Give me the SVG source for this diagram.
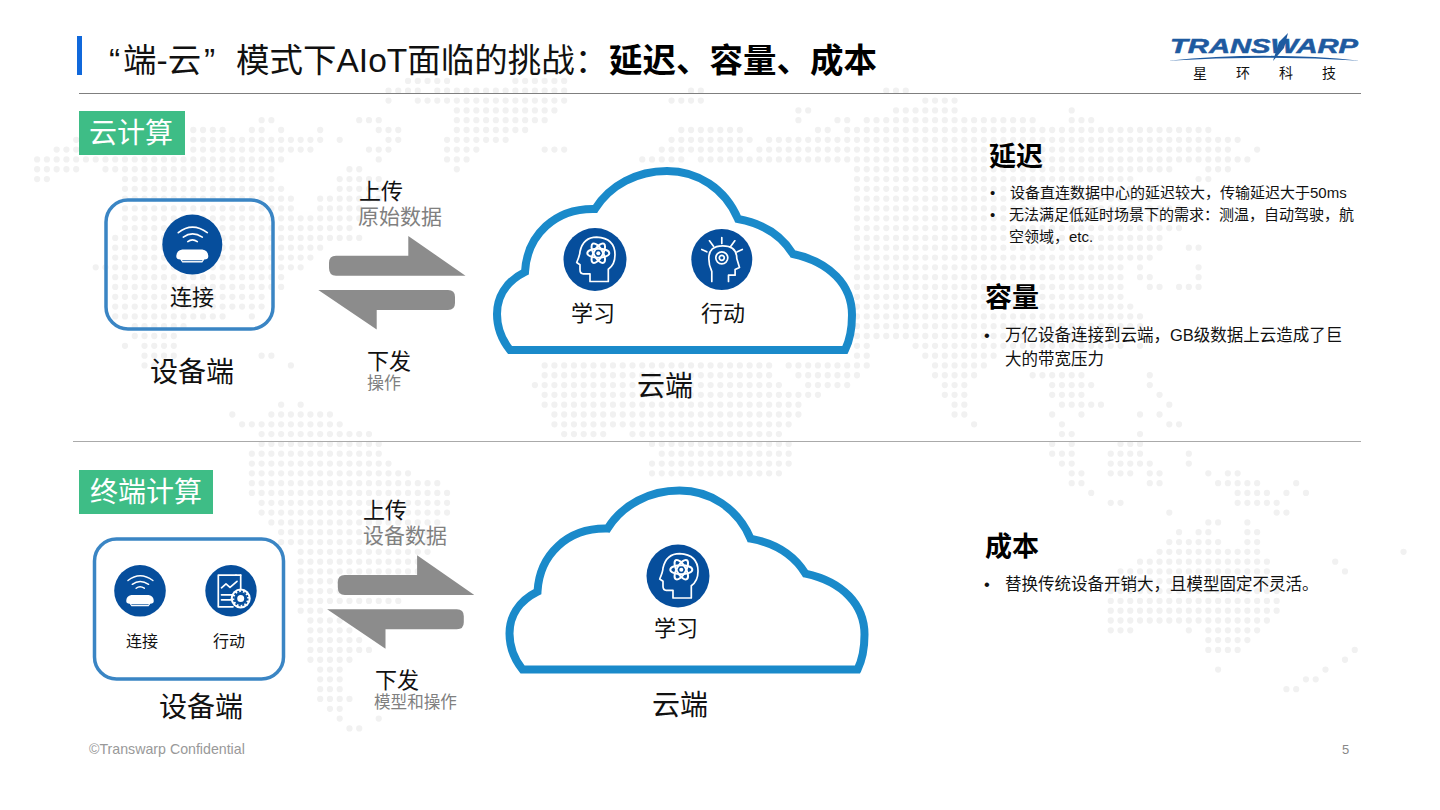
<svg xmlns="http://www.w3.org/2000/svg" width="1440" height="810" viewBox="0 0 1440 810">
<style>
text{font-family:"Liberation Sans","Noto Sans CJK SC",sans-serif;fill:#111}
.c{text-anchor:middle}
.g{fill:#808080}
.b{font-weight:700;font-size:27px;fill:#000}
.w{fill:#fff;font-size:28px}
.l{font-size:22px}
.l2{font-size:21px}
.o{font-size:17px}
.t{font-size:33.500px}
.d{font-size:16px}
.h{font-size:28px}
.s{font-size:15px}
.m{font-size:16.500px}
.ic{fill:none;stroke:#fff;stroke-width:1.700;stroke-linecap:round;stroke-linejoin:round}
.disc{fill:#064e9c}
.cloud{fill:#fff;stroke:#1a8aca;stroke-width:8;stroke-linejoin:miter}
.box{stroke:#3a85c4;stroke-width:3.500}
.arrow{fill:#8c8c8c}
</style>
<defs>
<g id="router"><circle class="disc" r="30"/><path class="ic" d="M-14-12Q0-23 15-12M-9-7.500Q0-14 10-7.500M-4.500-3Q0-6.500 5-3"/><path fill="#fff" d="M-10 5H10Q16 6 16 12Q16 15 12 15L10 18H-10L-12 15Q-16 15-16 12Q-16 6-10 5Z"/><path stroke="#064e9c" stroke-width=".8" d="M-10 16H10"/></g>
<g id="headatom"><circle class="disc" r="31.500"/><path class="ic" d="M-5 22V14.300H-11.700Q-15 14.300-15 10.300V5.300L-18.300 3Q-15-4.700-15-8Q-11.700-22.300 1.700-22.300Q20-21.300 20-4.700Q20 5.300 13.300 9.700V22Z"/><g class="ic" style="stroke-width:2" transform="translate(3.300 -6.300)"><ellipse rx="11" ry="4.500"/><ellipse rx="11" ry="4.500" transform="rotate(60)"/><ellipse rx="11" ry="4.500" transform="rotate(120)"/></g><circle cx="3.300" cy="-6.300" r="2" fill="#fff"/></g>
<path id="cloudshape" class="cloud" d="M510 350H845C850 340 852 325 852 315C852 285 830 262 793 254C780 233 760 223 738 219C725 188 697 171 667 171C637 171 610 185 595 209C555 208 527 235 525 272C505 282 497 298 497 314C497 328 502 340 510 350Z"/>
<g id="arrows"><path class="arrow" d="M336 255.700H408.300V236L465.500 275.700H336Q329 275.700 329 268V263Q329 255.700 336 255.700Z"/><path class="arrow" d="M318.300 290H448Q455 290 455 297V303Q455 310 448 310H376.700V329.500Z"/></g>
</defs>
<rect width="1440" height="810" fill="#fff"/>
<g id="worldmap" transform="translate(7.860 80.950) scale(9.760 9.810)" fill="none" stroke="#f1f1f1" stroke-width=".64" stroke-linecap="round" stroke-dasharray="0 1">
<path d="M41 0H45.010M52 0H57.010M39 1H42.010M44 1H57.010M70 1H71.010M90 1H92.010M39 2h.01M42 2H57.010M68 2H71.010M94 2H97.010M46 3H56.010M81 3H82.010M91 3H97.010M109 3h.01M26 4H27.010M36 4H38.010M46 4H55.010M81 4h.01M85 4H86.010M88 4H105.010M109 4H111.010M19 5H22.010M25 5H26.010M28 5h.01M32 5h.01M38 5H40.010M46 5H53.010M69 5H75.010M83 5H84.010M86 5H123.010M7 6h.01M19 6H32.010M34 6h.01M39 6H40.010M45 6H51.010M68 6H76.010M78 6H126.010M5 7H7.010M19 7H31.010M37 7H39.010M45 7H48.010M55 7H57.010M67 7H75.010M77 7H125.010M128 7h.01M3 8H28.010M38 8h.01M45 8H47.010M65 8H69.010M71 8H127.010M3 9H7.010M10 9H27.010M35 9H36.010M46 9h.01M87 9H119.010M123 9H125.010M3 10H4.010M12 10H27.010M34 10H38.010M87 10H115.010M122 10H123.010M12 11H28.010M34 11H38.010M87 11H117.010M12 12H29.010M32 12H38.010M87 12H117.010M12 13H29.010M32 13H36.010M87 13H120.010M12 14H36.010M87 14H120.010M12 15H35.010M87 15H120.010M11 16H36.010M87 16H118.010M11 17H32.010M87 17H118.010M121 17H122.010M11 18H31.010M87 18H117.010M9 19H30.010M87 19H114.010M116 19h.01M122 19h.01M11 20H28.010M87 20H114.010M116 20H117.010M122 20h.01M11 21H28.010M87 21H114.010M117 21H118.010M120 21H122.010M11 22H26.010M87 22H114.010M11 23H26.010M87 23H115.010M11 24H22.010M25 24h.01M87 24H116.010M13 25H18.010M87 25H116.010M13 26H17.010M87 26H112.010M12 27h.01M14 27H17.010M87 27H88.010M93 27H114.010M116 27h.01M14 28H17.010M26 28H27.010M87 28H88.010M94 28H101.010M14 29H16.010M29 29h.01M55 29H78.010M80 29H88.010M95 29H100.010M55 30H78.010M81 30H87.010M95 30H99.010M105 30H110.010M117 30h.01M54 31H79.010M82 31H86.010M96 31H98.010M107 31H111.010M117 31h.01M55 32H83.010M96 32H98.010M107 32H110.010M118 32h.01M28 33h.01M30 33h.01M55 33H81.010M97 33H98.010M108 33h.01M109 33H112.010M119 33h.01M23 34h.01M27 34H33.010M56 34H81.010M97 34H98.010M107 34h.01M110 34h.01M116 34h.01M118 34h.01M24 35H34.010M56 35H80.010M99 35h.01M108 35h.01M119 35H120.010M26 36H37.010M57 36H61.010M64 36H79.010M108 36H109.010M116 36h.01M26 37H38.010M66 37H80.010M107 37h.01M109 37h.01M114 37H116.010M25 38H38.010M67 38H80.010M107 38H109.010M113 38H116.010M121 38h.01M25 39H39.010M66 39H80.010M108 39H109.010M113 39H117.010M121 39h.01M25 40H41.010M66 40H79.010M109 40H110.010M113 40H115.010M117 40H118.010M123 40h.01M125 40H126.010M25 41H44.010M109 41H110.010M117 41H118.010M124 41H128.010M132 41h.01M25 42H45.010M111 42h.01M126 42H129.010M131 42h.01M133 42h.01M26 43H45.010M113 43H114.010M126 43H130.010M26 44H45.010M119 44h.01M130 44H131.010M27 45H44.010M123 45H124.010M127 45h.01M28 46H43.010M120 46h.01M122 46H123.010M127 46H128.010M28 47H43.010M119 47H124.010M127 47H128.010M30 48H43.010M118 48H128.010M143 48h.01M30 49H42.010M116 49H129.010M136 49h.01M30 50H42.010M114 50H129.010M137 50h.01M30 51H40.010M114 51H129.010M30 52H40.010M113 52H130.010M30 53H40.010M113 53H130.010M30 54H32.010M113 54H130.010M31 55H34.010M113 55H129.010M31 56H35.010M113 56H115.010M121 56h.01M123 56H128.010M31 57H36.010M123 57H127.010M31 58H37.010M123 58H126.010M138 58h.01M31 59H35.010M137 59h.01M32 60H34.010M124 60h.01M135 60h.01M32 61H34.010M133 61H134.010M32 62H34.010M131 62H132.010M32 63H35.010M33 64H34.010M34 65h.01M38 65h.01M35 66H36.010"/>
</g>
<g id="header">
<rect x="77" y="36" width="5" height="39" fill="#1068db"/>
<text class="t" x="109" y="72">“</text>
<text class="t" x="123" y="72">端-云</text>
<text class="t" x="204" y="72">”</text>
<text class="t" x="236" y="72">模式下AIoT面临的挑战：</text>
<text class="t" x="609" y="72" font-weight="700" style="fill:#000">延迟、容量、成本</text>
<path d="M79 93.500H1361" stroke="#7f7f7f" stroke-width="1"/>
<path d="M73 441.500H1361" stroke="#aaa" stroke-width="1"/>
</g>
<g id="logo">
<path d="M1168 60.700Q1264 51 1360 60.700Q1264 55 1168 60.700Z" fill="#1e5aa0"/>
<text x="1170" y="53" font-size="20" font-weight="700" font-style="italic" textLength="188" lengthAdjust="spacingAndGlyphs" style="fill:#1e5aa0;stroke:#1e5aa0;stroke-width:.5">TRANSWARP</text>
<path d="M1273 61L1279 42L1288 33L1284 48Z" fill="#1e5aa0"/>
<text x="1193" y="78" font-size="14">星</text><text x="1236" y="78" font-size="14">环</text><text x="1279" y="78" font-size="14">科</text><text x="1322" y="78" font-size="14">技</text>
</g>
<g id="label-cloud"><rect x="79" y="111" width="106" height="44" fill="#3ebd86"/><text class="w" x="89" y="143">云计算</text></g>
<g id="label-edge"><rect x="79" y="470" width="134" height="44" fill="#3ebd86"/><text class="w" x="90" y="502">终端计算</text></g>
<g id="connectors">
<use href="#arrows"/>
<use href="#arrows" transform="translate(8.800 319.300)"/>
</g>
<g id="device-top">
<rect class="box" x="106" y="200" width="167" height="129" rx="22" fill="none"/>
<use href="#router" transform="translate(192.300 244.600)"/>
<text class="l c" x="192" y="305">连接</text>
<text class="h c" x="192" y="382">设备端</text>
</g>
<g id="cloud-top">
<use href="#cloudshape"/>
<use href="#headatom" transform="translate(595 259.500)"/>
<text class="l c" x="593" y="321">学习</text>
<g transform="translate(721.800 259.500)"><circle class="disc" r="30.500"/><path class="ic" d="M-10 22V12Q-13 6-13-1Q-13-13.700 1-13.700Q15-13.700 15-1L17.700 8L13.300 10V15.700H6.700V22M0-22V-16M-12.300-18.700L-8.300-13.300M13-18.700L9-13.300M-20-10L-15-7.700M20.500-10L15.500-7.700"/><circle class="ic" cy="-1.700" r="6"/><circle class="ic" cy="-1.700" r="2.500"/></g>
<text class="l c" x="723" y="321">行动</text>
<text class="h c" x="665" y="396">云端</text>
</g>
<g id="flow-top">
<text class="l" x="359" y="199">上传</text>
<text class="l2 g" x="358" y="224">原始数据</text>
<text class="l" x="367" y="369">下发</text>
<text class="o g" x="367" y="389">操作</text>
</g>
<g id="device-bottom">
<rect class="box" x="94.500" y="539" width="189" height="140" rx="22" fill="#fff"/>
<use href="#router" transform="translate(140 590.800) scale(.86)"/>
<text class="d c" x="142" y="647">连接</text>
<g transform="translate(231 590.800)"><circle class="disc" r="25.700"/><path class="ic" d="M5-15.700H-12.700V16H2M9.700-15.700V-2"/><path class="ic" d="M5-15.700H9.700M-9.500-3L-5-7L-1-3.500L6-9.500M-9.500 4H2M-9.500 9H0"/><circle cx="9.700" cy="7.700" r="10" fill="#fff"/><circle cx="9.700" cy="7.700" r="5" fill="none" stroke="#064e9c" stroke-width="3"/><circle cx="9.700" cy="7.700" r="7" fill="none" stroke="#064e9c" stroke-width="1.800" stroke-dasharray="2 1.660"/></g>
<text class="d c" x="229" y="647">行动</text>
<text class="h c" x="201" y="717">设备端</text>
</g>
<g id="cloud-bottom">
<use href="#cloudshape" transform="translate(12.500 319.600)"/>
<use href="#headatom" transform="translate(678 576)"/>
<text class="l c" x="676" y="636">学习</text>
<text class="h c" x="680" y="715">云端</text>
</g>
<g id="flow-bottom">
<text class="l" x="363" y="518">上传</text>
<text class="l2 g" x="363" y="543">设备数据</text>
<text class="l" x="375" y="688">下发</text>
<text class="g" x="374" y="708" style="font-size:16.600px">模型和操作</text>
</g>
<g id="notes">
<text class="b" x="989" y="166">延迟</text>
<text class="s" x="990" y="198">•</text><text class="s" x="1010" y="198">设备直连数据中心的延迟较大，传输延迟大于50ms</text>
<text class="s" x="990" y="220">•</text><text class="s" x="1009" y="220">无法满足低延时场景下的需求：测温，自动驾驶，航</text>
<text class="s" x="1009" y="242">空领域，etc.</text>
<text class="b" x="985" y="307">容量</text>
<text class="m" x="984" y="341">•</text><text class="m" x="1005" y="341">万亿设备连接到云端，GB级数据上云造成了巨</text>
<text class="m" x="1005" y="365">大的带宽压力</text>
<text class="b" x="985" y="556">成本</text>
<text class="m" x="984" y="590">•</text><text class="m" x="1005" y="590">替换传统设备开销大，且模型固定不灵活。</text>
</g>
<g id="footer">
<text x="89" y="754" style="font-size:14.200px;fill:#999">©Transwarp Confidential</text>
<text x="1342" y="754" style="font-size:13px;fill:#888">5</text>
</g>
</svg>
